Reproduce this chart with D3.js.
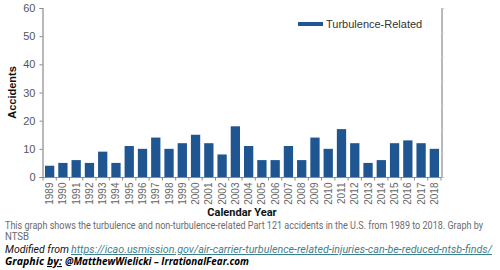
<!DOCTYPE html>
<html>
<head>
<meta charset="utf-8">
<script src="https://cdn.jsdelivr.net/npm/d3@7"></script>
<style>
  body { margin: 0; background: #fff; }
  svg { display: block; }
</style>
</head>
<body>
<script>
const years = d3.range(1989, 2019).map(String);
const turbulence = [4, 5, 6, 5, 9, 5, 11, 10, 14, 10, 12, 15, 12, 8, 18,
  11, 6, 6, 11, 6, 14, 10, 17, 12, 5, 6, 12, 13, 12, 10];
const yTicks = [0, 10, 20, 30, 40, 50, 60];
const seriesName = "Turbulence-Related";
const captionLines = [
  "This graph shows the turbulence and non-turbulence-related Part 121 accidents in the U.S. from 1989 to 2018. Graph by",
  "NTSB"
];
const sourceUrl = "https://icao.usmission.gov/air-carrier-turbulence-related-injuries-can-be-reduced-ntsb-finds/";

const colors = {
  bar: "#1f5591",
  axis: "#8a8a8a",
  tick: "#555",
  caption: "#6b6b6b",
  link: "#3f7f8c",
  dark: "#111"
};

const width = 500, height = 270;
const plot = { left: 43, right: 441, top: 8, bottom: 177 };

const svg = d3.select("body").append("svg")
  .attr("width", width)
  .attr("height", height);

const x = d3.scaleBand().domain(years).range([plot.left, plot.right]).paddingInner(0.3).paddingOuter(0.15);
const y = d3.scaleLinear().domain([0, 60]).range([plot.bottom, plot.top]);

// bars
svg.append("g")
  .selectAll("rect")
  .data(turbulence)
  .join("rect")
  .attr("x", (d, i) => x(years[i]))
  .attr("y", d => y(d))
  .attr("width", x.bandwidth())
  .attr("height", d => y(0) - y(d))
  .attr("fill", colors.bar);

// left axis
const yAxis = svg.append("g")
  .attr("transform", `translate(${plot.left - 0.5},0)`)
  .call(d3.axisLeft(y).tickValues(yTicks).tickSize(3).tickPadding(4));
yAxis.select(".domain").attr("stroke", colors.axis).attr("stroke-width", 1.2);
yAxis.selectAll(".tick line").attr("stroke", colors.axis);
yAxis.selectAll("text")
  .attr("fill", colors.tick)
  .style("font-family", "Liberation Sans, Arial, sans-serif")
  .style("font-size", "11px");

// right axis (unlabelled)
const yRight = d3.scaleLinear().domain([0, 7]).range([plot.bottom, plot.top]);
const rAxis = svg.append("g")
  .attr("transform", `translate(${plot.right + 0.5},0)`)
  .call(d3.axisRight(yRight).ticks(7).tickSize(2).tickFormat(""));
rAxis.select(".domain").attr("stroke", colors.axis).attr("stroke-width", 1.2);
rAxis.selectAll(".tick line").attr("stroke", "#cfcfcf");

// bottom axis
const step = x.step();
const xg = svg.append("g").attr("transform", `translate(0,${plot.bottom + 0.5})`);
xg.append("line")
  .attr("x1", plot.left - 0.5).attr("x2", plot.right + 0.5)
  .attr("stroke", colors.axis).attr("stroke-width", 1.2);
xg.selectAll("line.tk")
  .data(d3.range(years.length + 1))
  .join("line")
  .attr("class", "tk")
  .attr("x1", i => plot.left + i * step)
  .attr("x2", i => plot.left + i * step)
  .attr("y1", 0).attr("y2", 3)
  .attr("stroke", colors.axis);
xg.selectAll("text")
  .data(years)
  .join("text")
  .attr("transform", d => `translate(${x(d) + x.bandwidth() / 2 + 3.5},5) rotate(-90)`)
  .attr("text-anchor", "end")
  .attr("fill", "#666")
  .style("font-family", "Liberation Sans, Arial, sans-serif")
  .style("font-size", "10px")
  .text(d => d);

// axis titles
svg.append("text")
  .attr("transform", `translate(16,${(plot.top + plot.bottom) / 2}) rotate(-90)`)
  .attr("text-anchor", "middle")
  .attr("fill", colors.dark)
  .style("font-family", "Liberation Sans, Arial, sans-serif")
  .style("font-weight", "bold")
  .style("font-size", "11px")
  .text("Accidents");

svg.append("text")
  .attr("x", 242).attr("y", 216)
  .attr("text-anchor", "middle")
  .attr("fill", colors.dark)
  .style("font-family", "Roboto, sans-serif")
  .style("font-weight", "bold")
  .style("font-size", "11px")
  .text("Calendar Year");

// legend
const legend = svg.append("g").attr("transform", "translate(298,24)");
legend.append("rect")
  .attr("x", 0).attr("y", -2).attr("width", 25).attr("height", 4)
  .attr("fill", colors.bar);
legend.append("text")
  .attr("x", 28).attr("y", 4)
  .attr("fill", "#333")
  .style("font-family", "Liberation Sans, Arial, sans-serif")
  .style("font-size", "11px")
  .text(seriesName);

// caption
const fit = sel => sel.attr("lengthAdjust", "spacingAndGlyphs");
const cap = svg.append("g")
  .style("font-family", "Roboto, sans-serif")
  .style("font-size", "10.5px");
cap.append("text")
  .attr("x", 5).attr("y", 229)
  .attr("fill", colors.caption)
  .attr("textLength", 478)
  .call(fit)
  .text(captionLines[0]);
cap.append("text")
  .attr("x", 5).attr("y", 240)
  .attr("fill", colors.caption)
  .attr("textLength", 24)
  .call(fit)
  .text(captionLines[1]);

cap.append("text")
  .attr("x", 5).attr("y", 253)
  .attr("fill", colors.dark)
  .style("font-style", "italic")
  .attr("textLength", 64)
  .call(fit)
  .text("Modified from");
cap.append("text")
  .attr("x", 71).attr("y", 253)
  .attr("fill", colors.link)
  .style("font-style", "italic")
  .style("text-decoration", "underline")
  .attr("textLength", 421)
  .call(fit)
  .text(sourceUrl);

// credit line
const credit = svg.append("g")
  .attr("fill", "#000")
  .style("font-family", "Open Sans, sans-serif")
  .style("font-weight", "bold")
  .style("font-style", "italic")
  .style("font-size", "11px");
credit.append("text")
  .attr("x", 5).attr("y", 265)
  .attr("textLength", 39).call(fit)
  .text("Graphic");
credit.append("text")
  .attr("x", 47).attr("y", 265)
  .attr("textLength", 15).call(fit)
  .style("text-decoration", "underline")
  .text("by:");
credit.append("text")
  .attr("x", 65).attr("y", 265)
  .attr("textLength", 184).call(fit)
  .text("@MatthewWielicki \u2013 IrrationalFear.com");
</script>
</body>
</html>
